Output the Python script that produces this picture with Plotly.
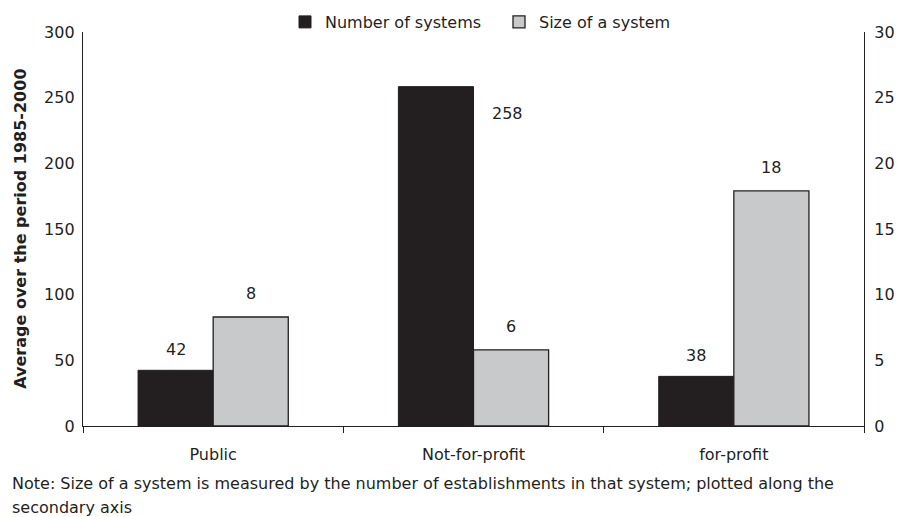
import plotly.graph_objects as go

categories = ["Public", "Not-for-profit", "for-profit"]
num_systems = [42.4, 258.4, 37.8]
size_system = [8.3, 5.8, 17.9]
left_ticks = [0, 50, 100, 150, 200, 250, 300]
right_ticks = [0, 5, 10, 15, 20, 25, 30]

FONT = "DejaVu Sans, Liberation Sans, Arial, sans-serif"
FS = 16

fig = go.Figure()
fig.add_trace(go.Bar(x=categories, y=num_systems, name="Number of systems",
                     marker=dict(color="#231f20", line=dict(color="#231f20", width=1)),
                     offsetgroup="1", yaxis="y"))
fig.add_trace(go.Bar(x=categories, y=size_system, name="Size of a system",
                     marker=dict(color="#c8c9cb", line=dict(color="#231f20", width=1.3)),
                     offsetgroup="2", yaxis="y2"))

bar_px = 75
annotations = []
for i, c in enumerate(categories):
    v = num_systems[i]
    if v > 200:
        annotations.append(dict(x=c, y=v, xref="x", yref="y", text=f"{v:.0f}",
                                showarrow=False, xshift=34, yshift=-27,
                                font=dict(size=FS, color="#231f20", family=FONT)))
    else:
        annotations.append(dict(x=c, y=v, xref="x", yref="y", text=f"{v:.0f}",
                                showarrow=False, xshift=-bar_px / 2, yshift=21,
                                font=dict(size=FS, color="#231f20", family=FONT)))
    s = size_system[i]
    annotations.append(dict(x=c, y=s, xref="x", yref="y2", text=f"{s:.0f}",
                            showarrow=False, xshift=bar_px / 2, yshift=23,
                            font=dict(size=FS, color="#231f20", family=FONT)))

annotations.append(dict(x=-0.081, y=0.5, xref="paper", yref="paper", textangle=-90,
                        text="<b>Average over the period 1985-2000</b>", showarrow=False,
                        xanchor="center", yanchor="middle",
                        font=dict(size=FS, color="#231f20", family=FONT)))
annotations.append(dict(x=-0.094, y=-0.145, xref="paper", yref="paper",
                        text="Note: Size of a system is measured by the number of establishments in that system; plotted along the",
                        showarrow=False, xanchor="left", yanchor="middle",
                        font=dict(size=FS, color="#231f20", family=FONT)))
annotations.append(dict(x=-0.094, y=-0.206, xref="paper", yref="paper",
                        text="secondary axis", showarrow=False, xanchor="left", yanchor="middle",
                        font=dict(size=FS, color="#231f20", family=FONT)))

fig.update_layout(
    width=897, height=517,
    margin=dict(l=83, r=33, t=32, b=91, autoexpand=False),
    paper_bgcolor="white", plot_bgcolor="white",
    font=dict(family=FONT, size=FS, color="#231f20"),
    barmode="group", bargap=0.423, bargroupgap=0,
    showlegend=True,
    legend=dict(orientation="h", x=(295 - 10) / 897, xanchor="left", xref="container",
                y=1 - 22 / 517, yanchor="middle", yref="container",
                entrywidth=169, entrywidthmode="pixels",
                font=dict(size=FS, family=FONT), itemwidth=30, bgcolor="rgba(0,0,0,0)"),
    xaxis=dict(type="category", range=[-0.5, 2.5], showline=True, linecolor="#231f20",
               linewidth=1.3, ticks="outside", tickson="boundaries", ticklen=6,
               tickcolor="#231f20", ticklabelstandoff=14, showgrid=False, zeroline=False),
    yaxis=dict(range=[0, 300], tickvals=left_ticks, showline=True, linecolor="#231f20",
               linewidth=1.3, ticks="", showgrid=False, zeroline=False, ticklabelstandoff=4),
    yaxis2=dict(range=[0, 30], tickvals=right_ticks, overlaying="y", side="right",
                showline=True, linecolor="#231f20", linewidth=1.3, ticks="",
                showgrid=False, zeroline=False, ticklabelstandoff=6),
    annotations=annotations,
)

fig.write_html("out.html")
